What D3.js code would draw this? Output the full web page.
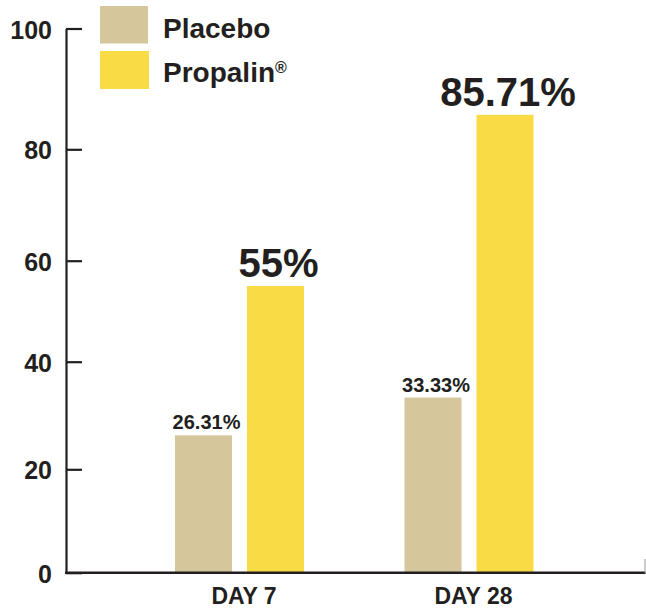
<!DOCTYPE html>
<html>
<head>
<meta charset="utf-8">
<script src="https://cdn.jsdelivr.net/npm/d3@7/dist/d3.min.js"></script>
<style>
  html, body { margin: 0; padding: 0; background: #fff; }
  svg { display: block; }
  text { font-family: "Liberation Sans", Arial, Helvetica, sans-serif; font-weight: bold; fill: #231F20; }
</style>
</head>
<body>
<svg id="chart" width="646" height="611"></svg>
<script>
// ---- data ----
const days = ["DAY 7", "DAY 28"];
const series = ["Placebo", "Propalin"];
const placeboValues = [26.31, 33.33];
const propalinValues = [55, 85.71];
const valueLabels = [["26.31%", "55%"], ["33.33%", "85.71%"]];
const yTicks = [0, 20, 40, 60, 80, 100];

const colors = { Placebo: "#D5C69B", Propalin: "#F9DC45" };
const ink = "#231F20";

const svg = d3.select("#chart");

// y scale follows the drawn (uneven) tick spacing of the reference
const y = d3.scaleLinear()
  .domain(yTicks)
  .range([572.7, 469.3, 361.7, 260.7, 149.3, 28.5]);

const x0 = d3.scalePoint().domain(days).range([239.5, 469]);
const x1 = d3.scaleBand().domain(series).range([-64.5, 64.5]).paddingInner(15 / 72).paddingOuter(0);

const rows = days.map((d, i) => ({
  day: d,
  values: [
    { s: "Placebo", v: placeboValues[i], label: valueLabels[i][0] },
    { s: "Propalin", v: propalinValues[i], label: valueLabels[i][1] }
  ]
}));

// bars
const g = svg.selectAll("g.group").data(rows).join("g")
  .attr("class", "group")
  .attr("transform", d => `translate(${x0(d.day)},0)`);

g.selectAll("rect").data(d => d.values).join("rect")
  .attr("x", d => x1(d.s))
  .attr("width", x1.bandwidth())
  .attr("y", d => y(d.v))
  .attr("height", d => y(0) - y(d.v))
  .attr("fill", d => colors[d.s]);

// value labels
g.selectAll("text.val").data(d => d.values).join("text")
  .attr("class", "val")
  .attr("text-anchor", "middle")
  .attr("x", d => x1(d.s) + x1.bandwidth() / 2 + 3)
  .attr("y", d => y(d.v) - (d.s === "Placebo" ? 6 : 9))
  .style("font-size", d => d.s === "Placebo" ? "20px" : "40px")
  .text(d => d.label);

// y axis
const yAxis = d3.axisLeft(y)
  .tickValues(yTicks)
  .tickSize(-16)
  .tickSizeOuter(0)
  .tickPadding(14)
  .tickFormat(d3.format("d"));

const ya = svg.append("g").attr("transform", "translate(66,0)").call(yAxis);
ya.select(".domain").attr("stroke", ink).attr("stroke-width", 2.2);
ya.selectAll(".tick line").attr("stroke", ink).attr("stroke-width", 2.2);
ya.selectAll(".tick text")
  .attr("fill", ink)
  .attr("dy", "0.38em")
  .style("font-size", "25px")
  .style("font-family", "'Liberation Sans', Arial, sans-serif")
  .style("font-weight", "bold");

// x axis
const xAxis = d3.axisBottom(x0).tickSize(0).tickPadding(0);
const xa = svg.append("g").attr("transform", `translate(0,${y(0)})`).call(xAxis);
xa.select(".domain").remove();
xa.selectAll(".tick text")
  .attr("fill", ink)
  .attr("dx", 4)
  .attr("dy", 0)
  .attr("y", 31.5)
  .style("font-size", "23px")
  .style("font-family", "'Liberation Sans', Arial, sans-serif")
  .style("font-weight", "bold");

// baseline
svg.append("line")
  .attr("x1", 65).attr("x2", 645.5)
  .attr("y1", y(0)).attr("y2", y(0))
  .attr("stroke", ink).attr("stroke-width", 2.6);
svg.append("line")
  .attr("x1", 645).attr("x2", 645)
  .attr("y1", 559).attr("y2", y(0))
  .attr("stroke", "#9a9a9a").attr("stroke-width", 1);

// legend
const legend = [
  { s: "Placebo", rect: [100, 6, 48, 37.5], ty: 37.7 },
  { s: "Propalin", rect: [100, 51, 49, 38], ty: 81.7 }
];
const lg = svg.append("g");
lg.selectAll("rect").data(legend).join("rect")
  .attr("x", d => d.rect[0]).attr("y", d => d.rect[1])
  .attr("width", d => d.rect[2]).attr("height", d => d.rect[3])
  .attr("fill", d => colors[d.s]);
const lt = lg.selectAll("text").data(legend).join("text")
  .attr("x", 163).attr("y", d => d.ty)
  .style("font-size", "28px");
lt.append("tspan").text(d => d.s);
lt.filter(d => d.s === "Propalin").append("tspan")
  .attr("dy", -9).attr("dx", 0)
  .style("font-size", "16px")
  .text("®");
</script>
</body>
</html>
